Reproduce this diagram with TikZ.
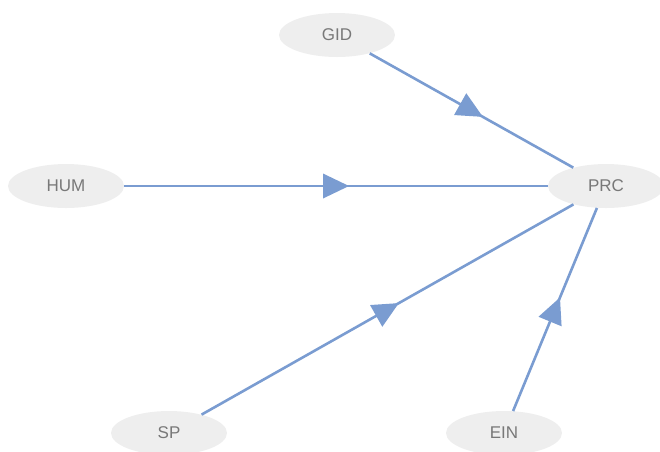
\documentclass[tikz,border=0pt]{standalone}
\usepackage{fontspec}
\setmainfont{Liberation Sans}
\usetikzlibrary{shapes.geometric,decorations.markings}
\definecolor{edgecol}{RGB}{122,156,209}
\definecolor{nodefill}{RGB}{238,238,238}
\definecolor{nodetext}{RGB}{120,120,120}
\tikzset{
  varnode/.style={ellipse, fill=nodefill, draw=none, minimum width=116pt, minimum height=44pt, inner sep=0pt, text=nodetext, font=\fontsize{17}{17}\selectfont},
  pathedge/.style={draw=edgecol, line width=2.6pt, postaction={decorate},
    decoration={markings, mark=at position 0.5 with {\fill[edgecol] (13pt,0pt) -- (-13pt,12.5pt) -- (-13pt,-12.5pt) -- cycle;}}}
}
\begin{document}
\begin{tikzpicture}[x=1pt,y=-1pt]
\useasboundingbox (0,0) rectangle (660,451);
\node[varnode] (GID) at (337,35) {GID};
\node[varnode] (HUM) at (66,186) {HUM};
\node[varnode] (PRC) at (606,186) {PRC};
\node[varnode] (SP) at (169,433) {SP};
\node[varnode] (EIN) at (504,433) {EIN};
\path[pathedge] (GID) -- (PRC);
\path[pathedge] (HUM) -- (PRC);
\path[pathedge] (SP) -- (PRC);
\path[pathedge] (EIN) -- (PRC);
\end{tikzpicture}
\end{document}
